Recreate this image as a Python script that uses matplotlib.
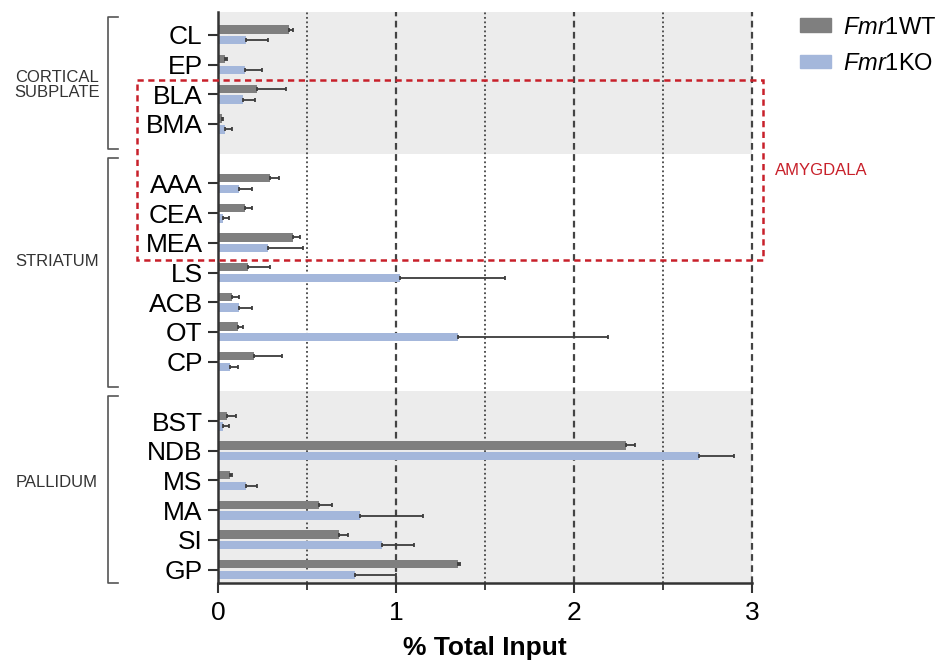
import numpy as np
import matplotlib
matplotlib.use("Agg")
import matplotlib.pyplot as plt
from matplotlib.patches import Rectangle, Patch
from matplotlib.lines import Line2D

plt.rcParams['font.family'] = ['Liberation Sans', 'DejaVu Sans']
plt.rcParams['mathtext.fontset'] = 'custom'
plt.rcParams['mathtext.it'] = 'Liberation Sans:italic'
plt.rcParams['mathtext.rm'] = 'Liberation Sans'

# Regions (top to bottom) and their row positions (gaps between groups)
regions = ['CL', 'EP', 'BLA', 'BMA',
           'AAA', 'CEA', 'MEA', 'LS', 'ACB', 'OT', 'CP',
           'BST', 'NDB', 'MS', 'MA', 'SI', 'GP']
rows = [0, 1, 2, 3, 5, 6, 7, 8, 9, 10, 11, 13, 14, 15, 16, 17, 18]

# % total input, mean and upper error
wt_mean = [0.40, 0.04, 0.22, 0.02, 0.29, 0.15, 0.42, 0.17, 0.08, 0.11, 0.20,
           0.05, 2.29, 0.07, 0.57, 0.68, 1.35]
wt_err = [0.02, 0.01, 0.16, 0.01, 0.05, 0.04, 0.04, 0.12, 0.04, 0.03, 0.16,
          0.05, 0.05, 0.01, 0.07, 0.05, 0.01]
ko_mean = [0.16, 0.15, 0.14, 0.04, 0.12, 0.03, 0.28, 1.02, 0.12, 1.35, 0.07,
           0.03, 2.70, 0.16, 0.80, 0.92, 0.77]
ko_err = [0.12, 0.10, 0.07, 0.04, 0.07, 0.03, 0.20, 0.59, 0.07, 0.84, 0.04,
          0.03, 0.20, 0.06, 0.35, 0.18, 0.23]

# group name, first row, last row
groups = [('CORTICAL\nSUBPLATE', 0, 3), ('STRIATUM', 5, 11), ('PALLIDUM', 13, 18)]
group_label_y = [1.68, 7.64, 15.07]

wt_color = '#7f7f7f'
ko_color = '#a4b7db'
err_color = '#3c3c3c'
axis_color = '#333333'

fig = plt.figure(figsize=(9.4, 6.63), dpi=100)
ax = fig.add_axes([0.2319, 0.1207, 0.5681, 0.8612])

ylo, yhi = -0.77, 18.45
ax.set_xlim(0, 3)
ax.set_ylim(yhi, ylo)

# shaded bands for cortical subplate and pallidum
ax.axhspan(ylo, 4, color='#ececec', zorder=0, lw=0)
ax.axhspan(12, yhi, color='#ececec', zorder=0, lw=0)

# vertical guide lines
for x in [0.5, 1.5, 2.5]:
    ax.axvline(x, color='#444444', lw=1.3, linestyle=(0, (1, 1.5)), zorder=1)
for x in [1, 2, 3]:
    ax.axvline(x, color='#444444', lw=1.6, linestyle=(0, (3, 2)), zorder=1,
               clip_on=False)

y = np.array(rows, dtype=float)
h = 0.28
off = 0.18
zeros = np.zeros(len(regions))
ax.barh(y - off, wt_mean, height=h, color=wt_color, zorder=2)
ax.barh(y + off, ko_mean, height=h, color=ko_color, zorder=2)
ax.errorbar(wt_mean, y - off, xerr=[zeros, wt_err], fmt='none', ecolor=err_color,
            elinewidth=1.3, capsize=1.5, capthick=1.3, zorder=3)
ax.errorbar(ko_mean, y + off, xerr=[zeros, ko_err], fmt='none', ecolor=err_color,
            elinewidth=1.3, capsize=1.5, capthick=1.3, zorder=3)

# axes styling
for s in ['top', 'right']:
    ax.spines[s].set_visible(False)
for s in ['left', 'bottom']:
    ax.spines[s].set_color(axis_color)
    ax.spines[s].set_linewidth(1.8)
ax.set_yticks(rows)
ax.set_yticklabels(regions, fontsize=19)
ax.set_xticks([0, 1, 2, 3])
ax.set_xticklabels(['0', '1', '2', '3'], fontsize=19)
ax.set_xticks([0.5, 1.5, 2.5], minor=True)
ax.tick_params(axis='y', length=7, width=1.5, color=axis_color, pad=4)
ax.tick_params(axis='x', which='major', length=7, width=1.5, color=axis_color, pad=6)
ax.tick_params(axis='x', which='minor', length=5, width=1.3, color=axis_color)
ax.set_xlabel('% Total Input', fontsize=19, fontweight='bold', labelpad=8)

# group brackets and labels
tr = ax.get_yaxis_transform()
bx = -0.206   # bracket line x in axes fraction
tick = 0.019
for (name, a, b), ly in zip(groups, group_label_y):
    top = a - 0.85 if a > 0 else -0.6
    bot = b + 0.85 if b < 18 else yhi
    ax.add_line(Line2D([bx + tick, bx, bx, bx + tick], [top, top, bot, bot],
                       transform=tr, color='#555555', lw=1.2, clip_on=False))
    ax.text(-0.3015, ly, name, transform=tr,
            ha='center', va='center', fontsize=12, color='#333333',
            linespacing=1.0, clip_on=False)

# amygdala box
ax.add_patch(Rectangle((-0.455, 1.514), 3.517, 6.06, fill=False, ec='#c8202a',
                       lw=1.8, linestyle=(0, (2.5, 1.8)), clip_on=False, zorder=4))
ax.text(3.13, 4.55, 'AMYGDALA', color='#c8202a', fontsize=12, ha='left',
        va='center', clip_on=False)

handles = [Patch(color=wt_color), Patch(color=ko_color)]
fig.legend(handles, [r'$\mathit{Fmr1}$WT', r'$\mathit{Fmr1}$KO'],
           loc='upper left', bbox_to_anchor=(0.834, 1.0), frameon=False,
           fontsize=17, handlelength=1.3, handleheight=0.5, labelspacing=0.6,
           handletextpad=0.5, borderaxespad=0.3)

fig.savefig('out.png', dpi=100)
